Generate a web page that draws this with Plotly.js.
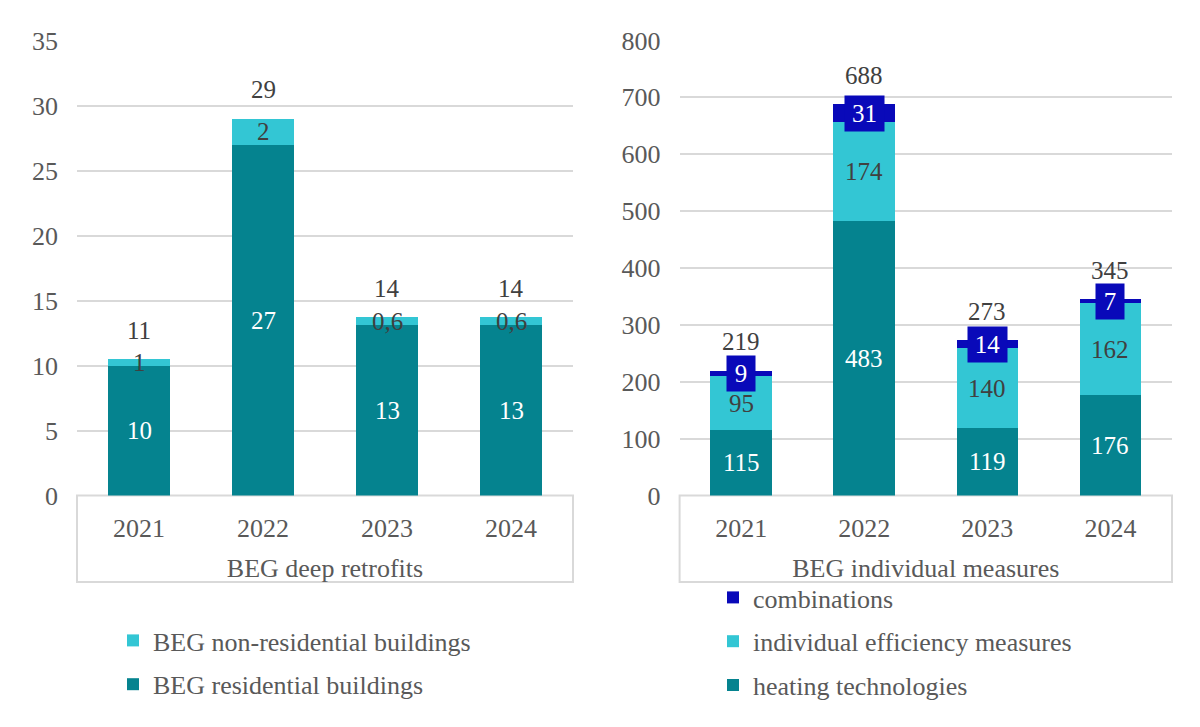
<!DOCTYPE html>
<html>
<head>
<meta charset="utf-8">
<script src="https://cdn.plot.ly/plotly-3.0.1.min.js"></script>
<style>html,body{margin:0;padding:0;background:#fff}#chart{width:1200px;height:727px}</style>
</head>
<body>
<div id="chart"></div>
<script>
// ---- data ----
const years = ["2021", "2022", "2023", "2024"];
// left: BEG deep retrofits
const residential = [10.0, 27.0, 13.1, 13.1];
const nonResidential = [0.5, 2.0, 0.6, 0.6];
const nonResidentialLabels = ["1", "2", "0,6", "0,6"];
// right: BEG individual measures
const heating = [115, 483, 119, 176];
const efficiency = [95, 174, 140, 162];
const combinations = [9, 31, 14, 7];

const leftTitle = "BEG deep retrofits";
const rightTitle = "BEG individual measures";
const names = {
  res: "BEG residential buildings",
  nonres: "BEG non-residential buildings",
  heat: "heating technologies",
  eff: "individual efficiency measures",
  comb: "combinations"
};

// ---- style ----
const FONT = "Liberation Serif, Times New Roman, serif";
const TEAL = "#05838F", CYAN = "#33C6D4", BLUE = "#0909B9";
const DARK = "#404040", GREY = "#595959", GRID = "#D9D9D9";
const FS = 26;   // axis, title and legend text
const LS = 25;   // data labels

const traces = [
  {type: "bar", x: years, y: residential, name: names.res, marker: {color: TEAL},
   xaxis: "x", yaxis: "y", legend: "legend", legendgroup: "a", legendrank: 2, hoverinfo: "y"},
  {type: "bar", x: years, y: nonResidential, name: names.nonres, marker: {color: CYAN},
   xaxis: "x", yaxis: "y", legend: "legend", legendgroup: "b", legendrank: 1, hoverinfo: "y"},
  {type: "bar", x: years, y: heating, name: names.heat, marker: {color: TEAL},
   xaxis: "x2", yaxis: "y2", legend: "legend2", legendgroup: "c", legendrank: 3, hoverinfo: "y"},
  {type: "bar", x: years, y: efficiency, name: names.eff, marker: {color: CYAN},
   xaxis: "x2", yaxis: "y2", legend: "legend2", legendgroup: "d", legendrank: 2, hoverinfo: "y"},
  {type: "bar", x: years, y: combinations, name: names.comb, marker: {color: BLUE},
   xaxis: "x2", yaxis: "y2", legend: "legend2", legendgroup: "e", legendrank: 1, hoverinfo: "y"}
];

const ann = [];
function lab(xref, yref, x, y, text, color, extra) {
  ann.push(Object.assign({xref: xref, yref: yref, x: x, y: y, text: text, showarrow: false,
    font: {family: FONT, size: LS, color: color}, xanchor: "center", yanchor: "middle"}, extra || {}));
}
years.forEach((yr, i) => {
  // category index i is the position of years[i]
  const tot = residential[i] + nonResidential[i];
  lab("x", "y", i, residential[i] / 2, String(Math.round(residential[i])), "#FFFFFF");
  lab("x", "y", i, residential[i] + nonResidential[i] / 2, nonResidentialLabels[i], DARK);
  lab("x", "y", i, tot, String(Math.round(tot)), DARK, {yshift: 29});
  const t2 = heating[i] + efficiency[i] + combinations[i];
  lab("x2", "y2", i, heating[i] / 2, String(heating[i]), "#FFFFFF");
  lab("x2", "y2", i, heating[i] + efficiency[i] / 2, String(efficiency[i]), DARK);
  const ct = String(combinations[i]);
  lab("x2", "y2", i, heating[i] + efficiency[i] + combinations[i] / 2, ct, "#FFFFFF",
      {bgcolor: BLUE, width: ct.length * 11 + 17, height: 35, borderpad: 0});
  lab("x2", "y2", i, t2, String(t2), DARK, {yshift: 29});
});

const xL = [77 / 1200, 573 / 1200];
const xR = [679.6 / 1200, 1172 / 1200];
const yD = [(727 - 495.5) / 727, (727 - 40.5) / 727];
const boxBottom = (727 - 582) / 727;

const tickFont = {family: FONT, size: FS, color: GREY};
function xAx(domain, anchor, title) {
  return {domain: domain, anchor: anchor, type: "category", range: [-0.5, years.length - 0.5],
    showgrid: false, zeroline: false,
    showline: false, ticks: "", tickfont: tickFont, ticklabelstandoff: 14, fixedrange: true,
    automargin: false,
    title: {text: title, font: {family: FONT, size: FS, color: GREY}, standoff: 17}};
}
function yAx(range, dtick, anchor) {
  return {domain: yD, anchor: anchor, range: range, dtick: dtick, tick0: 0, showgrid: true,
    gridcolor: GRID, gridwidth: 2, zeroline: false, showline: false, ticks: "",
    tickfont: tickFont, ticklabelstandoff: 18, fixedrange: true, automargin: false};
}

const layout = {
  width: 1200, height: 727,
  margin: {l: 0, r: 0, t: 0, b: 0},
  paper_bgcolor: "#FFFFFF", plot_bgcolor: "#FFFFFF",
  font: {family: FONT, size: FS, color: GREY},
  barmode: "stack", bargap: 0.5,
  xaxis: xAx(xL, "y", leftTitle),
  yaxis: yAx([0, 35], 5, "x"),
  xaxis2: xAx(xR, "y2", rightTitle),
  yaxis2: yAx([0, 800], 100, "x2"),
  annotations: ann,
  shapes: [
    {type: "rect", xref: "paper", yref: "paper", x0: xL[0], x1: xL[1], y0: boxBottom, y1: yD[0],
     line: {color: GRID, width: 2}, fillcolor: "rgba(0,0,0,0)", layer: "below"},
    {type: "rect", xref: "paper", yref: "paper", x0: xR[0], x1: xR[1], y0: boxBottom, y1: yD[0],
     line: {color: GRID, width: 2}, fillcolor: "rgba(0,0,0,0)", layer: "below"}
  ],
  legend: {x: 113 / 1200, xanchor: "left", y: (727 - 617) / 727, yanchor: "top",
    traceorder: "grouped", tracegroupgap: 7, font: {family: FONT, size: FS, color: GREY},
    bgcolor: "rgba(0,0,0,0)", borderwidth: 0},
  legend2: {x: 713 / 1200, xanchor: "left", y: (727 - 574) / 727, yanchor: "top",
    traceorder: "grouped", tracegroupgap: 7, font: {family: FONT, size: FS, color: GREY},
    bgcolor: "rgba(0,0,0,0)", borderwidth: 0},
  showlegend: true
};

Plotly.newPlot("chart", traces, layout, {displayModeBar: false, staticPlot: true});
</script>
</body>
</html>
